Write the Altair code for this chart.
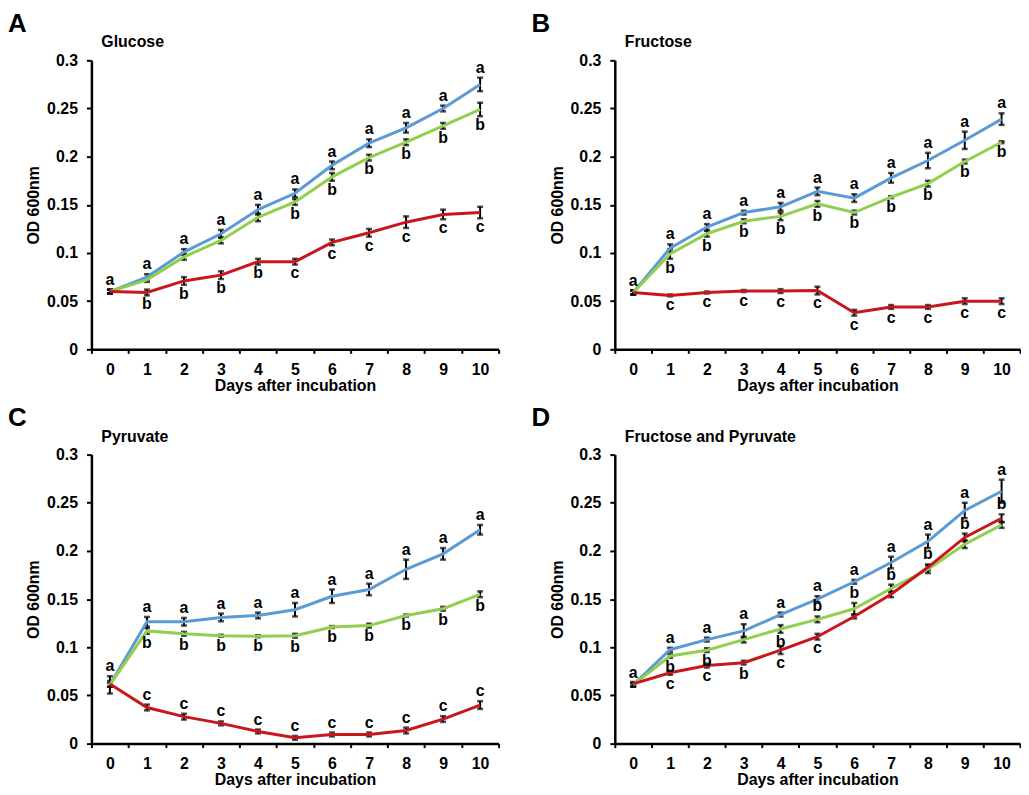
import altair as alt
import pandas as pd

FONT = "Liberation Sans"

days = list(range(11))
panel_letters = ["A", "B", "C", "D"]
panel_titles = ["Glucose", "Fructose", "Pyruvate", "Fructose and Pyruvate"]
series_names = ["Series 1", "Series 2", "Series 3"]
series_colors = ["#5B9BD5", "#92CE4F", "#C8161D"]

# ---- Panel A: Glucose ----
A_s1 = [0.060, 0.075, 0.101, 0.120, 0.145, 0.162, 0.191, 0.214, 0.230, 0.250, 0.275]
A_s2 = [0.060, 0.072, 0.096, 0.113, 0.137, 0.153, 0.179, 0.199, 0.215, 0.232, 0.249]
A_s3 = [0.060, 0.059, 0.071, 0.077, 0.091, 0.091, 0.111, 0.121, 0.132, 0.140, 0.142]
A_e1 = [0.002, 0.003, 0.003, 0.004, 0.005, 0.004, 0.004, 0.004, 0.005, 0.003, 0.007]
A_e2 = [0.002, 0.002, 0.003, 0.003, 0.004, 0.003, 0.004, 0.003, 0.003, 0.003, 0.007]
A_e3 = [0.002, 0.003, 0.004, 0.004, 0.003, 0.003, 0.003, 0.004, 0.006, 0.005, 0.006]
A_l1 = ["a"] * 11
A_l2 = ["", "", "", "", "", "b", "b", "b", "b", "b", "b"]
A_l3 = ["", "b", "b", "b", "b", "c", "c", "c", "c", "c", "c"]
A_d1 = ["up"] * 11
A_d2 = ["dn"] * 11
A_d3 = ["dn"] * 11

# ---- Panel B: Fructose ----
B_s1 = [0.059, 0.105, 0.127, 0.142, 0.148, 0.164, 0.157, 0.178, 0.196, 0.217, 0.239]
B_s2 = [0.059, 0.099, 0.120, 0.133, 0.138, 0.151, 0.142, 0.158, 0.172, 0.195, 0.215]
B_s3 = [0.059, 0.056, 0.059, 0.0605, 0.0605, 0.061, 0.038, 0.044, 0.044, 0.050, 0.050]
B_e1 = [0.002, 0.004, 0.003, 0.002, 0.004, 0.004, 0.004, 0.005, 0.008, 0.009, 0.006]
B_e2 = [0.002, 0.005, 0.003, 0.002, 0.004, 0.003, 0.002, 0.001, 0.003, 0.002, 0.001]
B_e3 = [0.002, 0.001, 0.001, 0.001, 0.002, 0.004, 0.003, 0.002, 0.002, 0.003, 0.003]
B_l1 = ["a"] * 11
B_l2 = [""] + ["b"] * 10
B_l3 = [""] + ["c"] * 10
B_d1 = ["up"] * 11
B_d2 = ["dn"] * 11
B_d3 = ["dn"] * 11

# ---- Panel C: Pyruvate ----
C_s1 = [0.061, 0.1265, 0.1265, 0.131, 0.133, 0.139, 0.153, 0.160, 0.181, 0.197, 0.222]
C_s2 = [0.061, 0.117, 0.114, 0.112, 0.1115, 0.112, 0.121, 0.1225, 0.133, 0.140, 0.155]
C_s3 = [0.062, 0.0375, 0.028, 0.021, 0.0126, 0.006, 0.0095, 0.0095, 0.0136, 0.0255, 0.040]
C_e1 = [0.009, 0.005, 0.004, 0.004, 0.003, 0.007, 0.007, 0.006, 0.010, 0.006, 0.005]
C_e2 = [0.002, 0.003, 0.002, 0.001, 0.001, 0.002, 0.001, 0.002, 0.001, 0.002, 0.003]
C_e3 = [0.003, 0.003, 0.003, 0.002, 0.002, 0.002, 0.002, 0.002, 0.003, 0.003, 0.004]
C_l1 = ["a"] * 11
C_l2 = [""] + ["b"] * 10
C_l3 = [""] + ["c"] * 10
C_d1 = ["up"] * 11
C_d2 = ["dn"] * 11
C_d3 = ["up"] * 11

# ---- Panel D: Fructose and Pyruvate ----
D_s1 = [0.061, 0.0975, 0.108, 0.117, 0.134, 0.150, 0.168, 0.188, 0.210, 0.242, 0.262]
D_s2 = [0.061, 0.091, 0.097, 0.108, 0.119, 0.129, 0.140, 0.161, 0.181, 0.207, 0.227]
D_s3 = [0.062, 0.0735, 0.081, 0.084, 0.097, 0.111, 0.132, 0.155, 0.183, 0.214, 0.234]
D_e1 = [0.002, 0.002, 0.002, 0.007, 0.002, 0.003, 0.002, 0.006, 0.007, 0.008, 0.012]
D_e2 = [0.002, 0.002, 0.002, 0.003, 0.004, 0.003, 0.006, 0.004, 0.004, 0.004, 0.003]
D_e3 = [0.002, 0.002, 0.002, 0.002, 0.004, 0.003, 0.002, 0.003, 0.003, 0.004, 0.004]
D_l1 = ["a"] * 11
D_l2 = ["", "b", "b", "", "b", "b", "b", "b", "", "", ""]
D_l3 = ["", "c", "c", "b", "c", "c", "", "", "b", "b", "b"]
D_d1 = ["up"] * 11
D_d2 = ["dn", "dn", "dn", "dn", "dn", "up", "up", "up", "up", "up", "up"]
D_d3 = ["dn", "dn", "dn", "dn", "dn", "dn", "dn", "dn", "up", "up", "up"]

y_ticks = [0, 0.05, 0.1, 0.15, 0.2, 0.25, 0.3]

panels = {
    "A": [(A_s1, A_e1, A_l1, A_d1), (A_s2, A_e2, A_l2, A_d2), (A_s3, A_e3, A_l3, A_d3)],
    "B": [(B_s1, B_e1, B_l1, B_d1), (B_s2, B_e2, B_l2, B_d2), (B_s3, B_e3, B_l3, B_d3)],
    "C": [(C_s1, C_e1, C_l1, C_d1), (C_s2, C_e2, C_l2, C_d2), (C_s3, C_e3, C_l3, C_d3)],
    "D": [(D_s1, D_e1, D_l1, D_d1), (D_s2, D_e2, D_l2, D_d2), (D_s3, D_e3, D_l3, D_d3)],
}


def panel_df(key):
    rows = []
    for name, (vals, errs, lets, sides) in zip(series_names, panels[key]):
        for d, v, e, l, s in zip(days, vals, errs, lets, sides):
            rows.append({"day": d, "series": name, "value": v, "lo": v - e,
                         "hi": v + e, "letter": l, "side": s})
    return pd.DataFrame(rows)


def make_panel(key, title, width):
    df = panel_df(key)
    base = alt.Chart(df)
    xband = alt.X("day:O", bandPosition=0.5,
                  scale=alt.Scale(type="band", paddingInner=0, paddingOuter=0),
                  axis=alt.Axis(title="Days after incubation", labelAngle=0,
                                tickBand="extent", tickSize=4, labelPadding=8,
                                titlePadding=0))
    yscale = alt.Scale(domain=[0, 0.3], nice=False, zero=True)
    yaxis = alt.Axis(title="OD 600nm", values=y_ticks, format="~g", tickSize=5,
                     labelPadding=9, titlePadding=5, grid=False)
    color = alt.Color("series:N", scale=alt.Scale(domain=series_names, range=series_colors),
                      legend=None)

    rules = base.mark_rule(color="black", strokeWidth=2).encode(
        x=xband, y=alt.Y("lo:Q", scale=yscale, axis=yaxis), y2="hi:Q")
    cap_lo = base.mark_tick(color="black", size=6, thickness=2.5).encode(
        x=alt.X("day:O"), y=alt.Y("lo:Q"))
    cap_hi = base.mark_tick(color="black", size=6, thickness=2.5).encode(
        x=alt.X("day:O"), y=alt.Y("hi:Q"))
    lines = base.mark_line(strokeWidth=3).encode(
        x=xband, y=alt.Y("value:Q"), color=color, detail="series:N")
    up = base.transform_filter("datum.letter != '' && datum.side == 'up'").mark_text(
        baseline="bottom", dy=-2, fontSize=16, fontWeight="bold", font=FONT, color="black"
    ).encode(x=xband, y=alt.Y("hi:Q"), text="letter:N")
    dn = base.transform_filter("datum.letter != '' && datum.side == 'dn'").mark_text(
        baseline="top", dy=1, fontSize=16, fontWeight="bold", font=FONT, color="black"
    ).encode(x=xband, y=alt.Y("lo:Q"), text="letter:N")
    sub = alt.Chart(pd.DataFrame({"t": [title]})).mark_text(
        align="left", baseline="alphabetic", fontSize=16, fontWeight="bold",
        font=FONT, color="black"
    ).encode(x=alt.value(10), y=alt.value(-13), text="t:N")

    return alt.layer(rules, cap_lo, cap_hi, lines, up, dn, sub).properties(
        width=width, height=291,
        title=alt.TitleParams(text=key, anchor="start", frame="group", dx=-84,
                              fontSize=26, fontWeight="bold", font=FONT,
                              color="black", offset=-2),
    )


pA = make_panel("A", panel_titles[0], 410)
pB = make_panel("B", panel_titles[1], 408)
pC = make_panel("C", panel_titles[2], 410)
pD = make_panel("D", panel_titles[3], 408)

chart = alt.vconcat(
    alt.hconcat(pA, pB, spacing=32),
    alt.hconcat(pC, pD, spacing=32),
    spacing=12,
).properties(
    padding={"left": 0, "top": 0, "right": 0, "bottom": 0}
).configure_view(
    strokeWidth=0
).configure_axis(
    labelFont=FONT, labelFontSize=16, labelFontWeight="bold", labelColor="black",
    titleFont=FONT, titleFontSize=16, titleFontWeight="bold", titleColor="black",
    domainColor="black", domainWidth=2.5, tickColor="black", tickWidth=2,
)

chart.save("out.html", embed_options={"renderer": "svg", "actions": False})
